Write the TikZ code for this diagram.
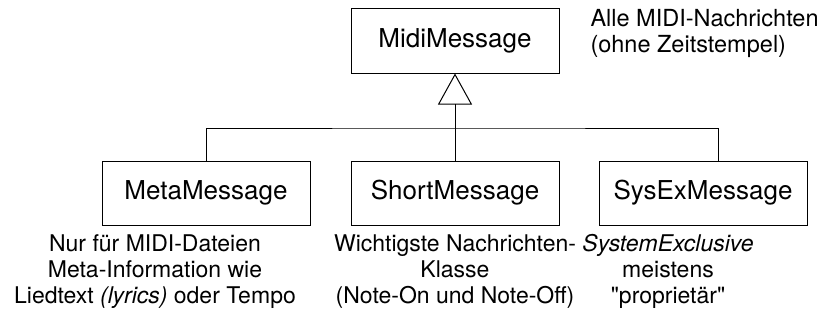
\documentclass[tikz,border=0pt]{standalone}
\usepackage{fontspec}
\setmainfont{TeX Gyre Heros}
\usetikzlibrary{arrows.meta}

\begin{document}
\begin{tikzpicture}[x=1pt,y=-1pt,line width=1pt,
		klasse/.style={draw,minimum width=208pt,minimum height=64pt,inner sep=0pt,font=\fontsize{26}{28}\selectfont},
		notiz/.style={align=center,inner sep=0pt,font=\fontsize{23}{26}\selectfont}]
	\useasboundingbox (0,0) rectangle (829,321);
	% Basisklasse
	\node[klasse] (midi) at (455,41) {MidiMessage};
	\node[notiz,align=left,anchor=north west,font=\fontsize{23.5}{26}\selectfont] (alle) at (590,9) {Alle MIDI-Nachrichten\\(ohne Zeitstempel)};
	% Unterklassen
	\node[klasse] (meta) at (206,193) {MetaMessage};
	\node[klasse] (short) at (455,193) {ShortMessage};
	\node[klasse] (sysex) at (703,193) {SysExMessage};
	\coordinate (knoten) at (455,128);
	\draw[-{Triangle[open,length=31pt,width=34pt]}] (short) -- (midi);
	\draw (meta) |- (knoten) -| ([xshift=15pt]sysex.north);
	% Anmerkungen
	\node[notiz,anchor=north] (metatext) at (155,234) {Nur für MIDI-Dateien\\Meta-Information wie\\Liedtext \textit{(lyrics)} oder Tempo};
	\node[notiz,anchor=north] (shorttext) at (455,234) {Wichtigste Nachrichten-\\Klasse\\(Note-On und Note-Off)};
	\node[notiz,anchor=north] (sysextext) at (668,234) {\textit{SystemExclusive}\\meistens\\\textquotedbl proprietär\textquotedbl};
\end{tikzpicture}
\end{document}
